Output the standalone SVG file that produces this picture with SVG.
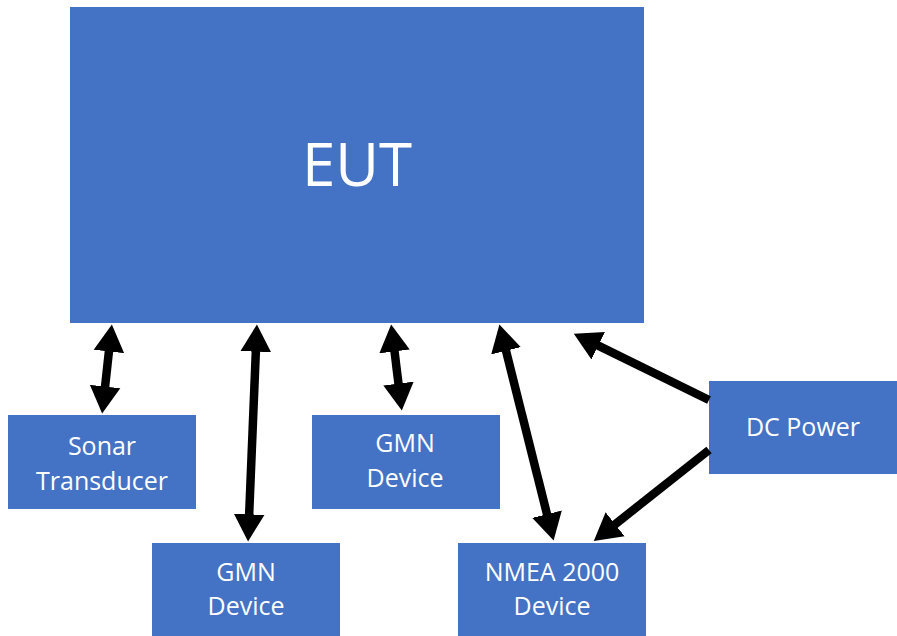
<svg xmlns="http://www.w3.org/2000/svg" width="897" height="636" viewBox="0 0 897 636">
<style>
.box{fill:#4472C4;}
.t{fill:#ffffff;font-family:"Open Sans","Noto Sans",sans-serif;font-size:25px;text-anchor:middle;}
.big{font-size:60px;}
.c{stroke:#000;stroke-width:8.5;fill:none;}
</style>
<defs>
<marker id="ah" viewBox="0 -2 3.6 4" refX="0.2" refY="0" markerWidth="3.6" markerHeight="4" markerUnits="strokeWidth" orient="auto-start-reverse">
<path d="M0,-1.8 L3.2,0 L0,1.8 z" fill="#000"/>
</marker>
</defs>
<rect width="897" height="636" fill="#fff"/>
<g id="eut"><rect class="box" x="70" y="7" width="574" height="316"/><text class="t big" x="357" y="186">EUT</text></g>
<g id="sonar"><rect class="box" x="8" y="415" width="188" height="94"/><text class="t" x="102" y="455">Sonar</text><text class="t" x="102" y="490">Transducer</text></g>
<g id="gmn1"><rect class="box" x="312" y="415" width="188" height="94"/><text class="t" x="405" y="452">GMN</text><text class="t" x="405" y="487">Device</text></g>
<g id="gmn2"><rect class="box" x="152" y="543" width="188" height="93"/><text class="t" x="246" y="581">GMN</text><text class="t" x="246" y="615">Device</text></g>
<g id="nmea"><rect class="box" x="458" y="543" width="188" height="93"/><text class="t" x="552" y="581">NMEA 2000</text><text class="t" x="552" y="615">Device</text></g>
<g id="dc"><rect class="box" x="709" y="381" width="188" height="93"/><text class="t" x="803" y="436">DC Power</text></g>
<g id="connectors">
<path class="c" d="M109.1,349.8 L104.9,388.2" marker-start="url(#ah)" marker-end="url(#ah)"/>
<path class="c" d="M255.9,350 L249.1,516" marker-start="url(#ah)" marker-end="url(#ah)"/>
<path class="c" d="M394.3,349.8 L398.7,385.2" marker-start="url(#ah)" marker-end="url(#ah)"/>
<path class="c" d="M505.6,349.2 L547.4,515.8" marker-start="url(#ah)" marker-end="url(#ah)"/>
<path class="c" d="M709,400 L596.7,344.9" marker-end="url(#ah)"/>
<path class="c" d="M709,450 L613.8,525.3" marker-end="url(#ah)"/>
</g>
</svg>
